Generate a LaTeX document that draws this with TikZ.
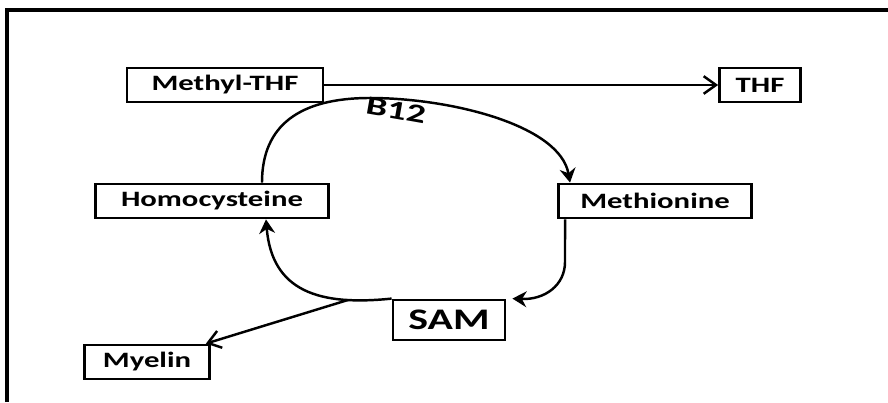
\documentclass[tikz,border=0pt]{standalone}
\usepackage{fontspec}
\setmainfont[FakeStretch=1.4]{Carlito}
\newfontfamily\labfont{Carlito}
\usetikzlibrary{arrows.meta}

\begin{document}
\begin{tikzpicture}[x=0.02cm, y=-0.02cm,
    box/.style={draw, line width=1.6pt, inner sep=0pt, minimum height=34*0.02cm,
                font=\fontsize{12.5}{14}\bfseries\selectfont},
    flow/.style={line width=1.4pt, -{Straight Barb[length=7pt, width=10pt, line width=1.4pt]}},
    cyc/.style={line width=1.4pt, -{Stealth[length=8pt, width=9pt]}}]
  \useasboundingbox (0,0) rectangle (888,402);
  \draw[line width=1.8pt] (7,402) -- (7,10) -- (888,10);
  \foreach \n/\x/\y/\w/\t in {mthf/225/85/196/Methyl-THF, thf/760/85/81/THF,
                              hcy/212/201/233/Homocysteine, met/655/201/193/Methionine,
                              myl/147/362/125/Myelin}
    \node[box, minimum width=\w*0.02cm] (\n) at (\x,\y) {\t};
  \node[box, minimum width=112*0.02cm, minimum height=40*0.02cm,
        font=\fontsize{17}{19}\bfseries\selectfont] (sam) at (449,320) {SAM};
  \draw[flow] (mthf) -- (thf);
  \draw[cyc] ([xshift=1cm]hcy.north) .. controls (262,125) and (300,98) .. (370,98)
             .. controls (450,98) and (560,125) .. ([xshift=-1.7cm]met.north);
  \node[rotate=-10, inner sep=0pt, font=\labfont\fontsize{15}{17}\bfseries\selectfont] (b12) at (396,110)
    {\scalebox{1.45}[1]{B12}};
  \draw[cyc] ([xshift=-1.8cm]met.south) -- (565,262) .. controls (565,285) and (545,300) .. ([xshift=0.12cm]sam.north east);
  \draw[cyc] (sam.north west) .. controls (320,306) and (272,292) .. coordinate[pos=0.22] (br) ([xshift=1.08cm]hcy.south);
  \draw[flow] (br) -- ([xshift=-0.1cm]myl.north east);
\end{tikzpicture}
\end{document}
